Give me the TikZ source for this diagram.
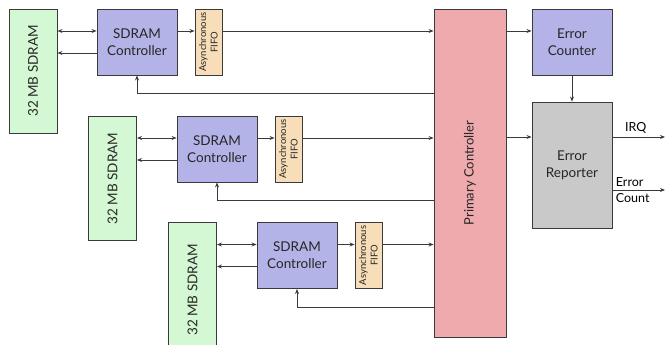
\documentclass[tikz,border=0pt]{standalone}
\usepackage{fontspec}
\setmainfont{Lato}
\usetikzlibrary{arrows.meta}
\definecolor{memgreen}{HTML}{D4F7D4}
\definecolor{ctlblue}{HTML}{B3B3E8}
\definecolor{fifopeach}{HTML}{F7DDB8}
\definecolor{primpink}{HTML}{EFAAAD}
\definecolor{repgray}{HTML}{C9C9C9}
\definecolor{linegray}{HTML}{3A3A3A}

\begin{document}
\begin{tikzpicture}[x=1pt,y=-1pt,
        blk/.style = {draw=linegray, line width=0.9pt, inner sep=0pt, align=center, text=black!85},
        mem/.style = {blk, fill=memgreen, minimum width=48, minimum height=124, font=\fontsize{13.5}{15}\selectfont},
        ctl/.style = {blk, fill=ctlblue, minimum width=80, minimum height=66, font=\fontsize{13.5}{17}\selectfont},
        fifo/.style = {blk, fill=fifopeach, minimum width=27, minimum height=66, font=\fontsize{9.5}{9}\selectfont},
        wire/.style = {draw=linegray, line width=0.8pt, -{Stealth[length=5pt,width=4pt]}},
        bus/.style = {wire, {Stealth[length=5pt,width=4pt]}-{Stealth[length=5pt,width=4pt]}}]
        \useasboundingbox (0,0) rectangle (665,345);
        % the three memory channels
        \node[mem] (mem1) at (33,71) {\rotatebox{90}{32 MB SDRAM}};
        \node[ctl] (ctl1) at (137,42) {SDRAM\\Controller};
        \node[fifo] (fifo1) at (208.5,42) {\rotatebox{90}{\shortstack{Asynchronous\\FIFO}}};
        \node[mem] (mem2) at (112.5,178.5) {\rotatebox{90}{32 MB SDRAM}};
        \node[ctl] (ctl2) at (217,149) {SDRAM\\Controller};
        \node[fifo] (fifo2) at (288.5,149) {\rotatebox{90}{\shortstack{Asynchronous\\FIFO}}};
        \node[mem,minimum height=128] (mem3) at (192.5,286) {\rotatebox{90}{32 MB SDRAM\hspace{8pt}}};
        \node[ctl] (ctl3) at (297,255.5) {SDRAM\\Controller};
        \node[fifo] (fifo3) at (368.5,255.5) {\rotatebox{90}{\shortstack{Asynchronous\\FIFO}}};
        % primary controller and error logic
        \node[blk,fill=primpink,minimum width=72,minimum height=328,font=\fontsize{13}{15}\selectfont] (prim) at (470,173) {\rotatebox{90}{Primary Controller}};
        \node[ctl] (cnt) at (572,42) {Error\\Counter};
        \node[ctl,fill=repgray,minimum height=126] (rep) at (572,165) {Error\\Reporter};
        \coordinate (irq) at (665,137);
        \coordinate (count) at (665,190);
        % channel wiring
        \foreach \i in {1,2,3} {
            \draw[bus] ([yshift=11pt]mem\i.east |- ctl\i.west) -- ([yshift=11pt]ctl\i.west);
            \draw[wire] ([yshift=-11pt]ctl\i.west) -- ([yshift=-11pt]mem\i.east |- ctl\i.west);
            \draw[wire] ([yshift=11pt]ctl\i.east) -- ([yshift=11pt]fifo\i.west);
            \draw[wire] ([yshift=11pt]fifo\i.east) -- ([yshift=11pt]prim.west |- fifo\i.east);
            \draw[wire] ([yshift=-18pt]prim.west |- ctl\i.south) -| (ctl\i.south);
        }
        \draw[wire] ([yshift=11pt]prim.east |- cnt.west) -- ([yshift=11pt]cnt.west);
        \draw[wire] (cnt.south) -- (rep.north);
        \draw[wire] ([yshift=28pt]prim.east |- rep.west) -- ([yshift=28pt]rep.west);
        \draw[wire] (rep.east |- irq) -- node[above,font=\fontsize{12.5}{14}\selectfont,xshift=-3pt] (irqlbl) {IRQ} (irq);
        \draw[wire] (rep.east |- count) -- node[align=left,font=\fontsize{12.5}{14}\selectfont,xshift=-6pt] (cntlbl) {Error\\[2pt]Count} (count);
    \end{tikzpicture}
\end{document}
